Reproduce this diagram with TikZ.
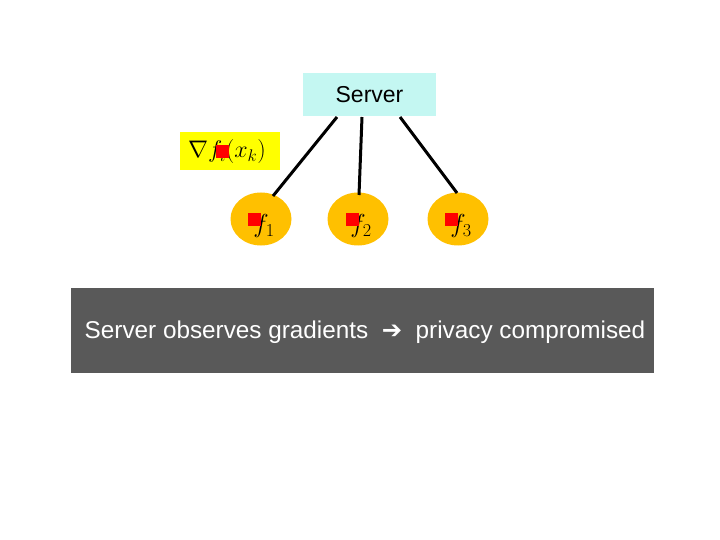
\documentclass[tikz,border=0pt]{standalone}
\usepackage{fix-cm}
\usepackage{fontspec}
\setmainfont{Liberation Sans}
\newfontfamily\symfont{DejaVu Sans}
\usetikzlibrary{shapes.geometric}
\definecolor{servercol}{HTML}{C4F7F2}
\definecolor{gradcol}{HTML}{FFFF00}
\definecolor{nodecol}{HTML}{FFC000}
\definecolor{bandcol}{HTML}{595959}
\definecolor{markcol}{HTML}{FF0000}
\tikzset{
  serverbox/.style={fill=servercol, minimum width=133pt, minimum height=43pt, inner sep=0pt, font=\fontsize{23}{26}\selectfont},
  gradbox/.style={fill=gradcol, minimum width=100pt, minimum height=38pt, inner sep=0pt},
  worker/.style={ellipse, fill=nodecol, minimum width=61pt, minimum height=53pt, inner sep=0pt},
  wlabel/.style={font=\fontsize{26}{30}\selectfont, inner sep=0pt},
  link/.style={line width=3pt, black},
  redmark/.style={fill=markcol, minimum size=13pt, inner sep=0pt},
  band/.style={fill=bandcol, minimum width=583pt, minimum height=85pt, inner sep=0pt}
}
\begin{document}
\begin{tikzpicture}[x=1pt,y=-1pt]
\useasboundingbox (0,0) rectangle (720,540);
\fill[white] (0,0) rectangle (720,540);
\node[serverbox] (server) at (369.5,94.5) {Server};
\node[gradbox] (grad) at (230,151) {};
\node[font=\fontsize{24}{28}\selectfont, inner sep=0pt] (gradtext) at (227,152) {$\nabla f_i(x_k)$};
\node[worker] (w1) at (261,219) {};
\node[worker] (w2) at (358,219) {};
\node[worker] (w3) at (458,219) {};
\node[wlabel] (t1) at (264,226) {$f_1$};
\node[wlabel] (t2) at (361,226) {$f_2$};
\node[wlabel] (t3) at (461,226) {$f_3$};
\coordinate (s1) at (337,117);
\coordinate (s2) at (362,117);
\coordinate (s3) at (400,117);
\coordinate (e1) at (273,196);
\coordinate (e2) at (359,195);
\coordinate (e3) at (457,193);
\draw[link] (s1) -- (e1);
\draw[link] (s2) -- (e2);
\draw[link] (s3) -- (e3);
\node[redmark] (m0) at (222,152) {};
\node[redmark] (m1) at (254.5,219.5) {};
\node[redmark] (m2) at (352,219.5) {};
\node[redmark] (m3) at (451.5,219.5) {};
\node[band] (note) at (362.5,330.5) {};
\node[text=white, font=\fontsize{24.3}{28}\selectfont, inner sep=0pt] (notetext) at (365,332.5) {Server observes gradients \ {\symfont ➔}\ \ privacy compromised};
\end{tikzpicture}
\end{document}
